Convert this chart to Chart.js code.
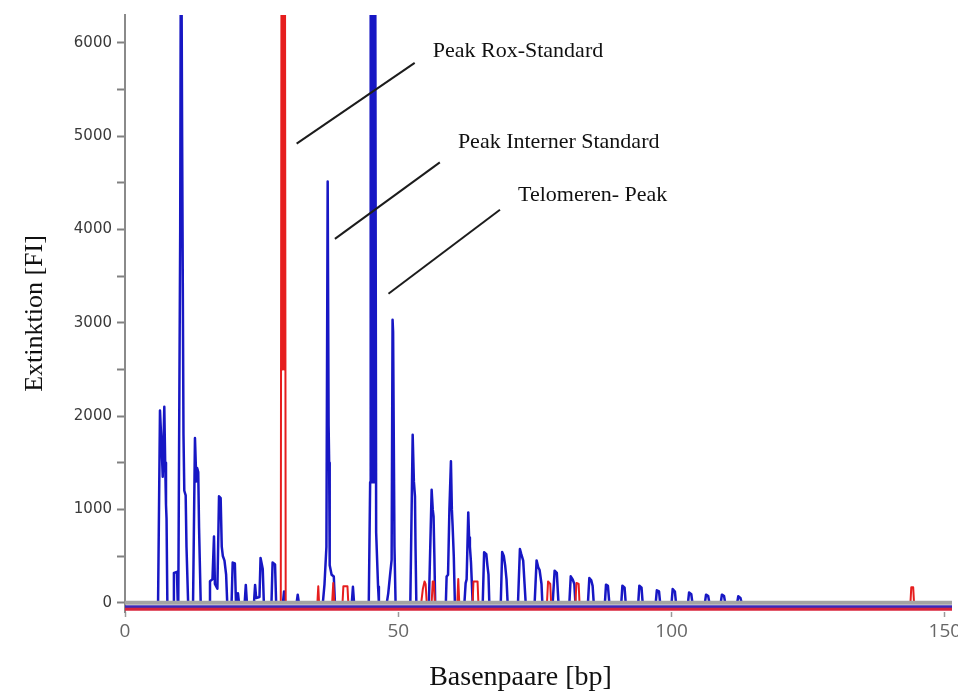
<!DOCTYPE html>
<html>
<head>
<meta charset="utf-8">
<script src="https://cdn.jsdelivr.net/npm/chart.js@4.4.0/dist/chart.umd.min.js"></script>
<style>
body { margin: 0; background: #fff; }
#wrap { width: 958px; height: 693px; }
</style>
</head>
<body>
<div id="wrap"><canvas id="trace" width="958" height="693"></canvas></div>
<script>
// blue channel (sample) : base pairs / fluorescence
var blueBp = [0,
  6.05, 6.4, 6.75, 6.9, 7.19, 7.35, 7.5, 7.6, 7.75,
  8.8, 8.95, 9.5, 9.65,
  9.75, 10.1, 10.25, 10.45, 10.7, 10.85, 11.1, 11.25, 11.55,
  12.45, 12.8, 13.05, 13.2, 13.4, 13.55, 13.85,
  15.4, 15.55, 16.0, 16.28, 16.45, 16.9, 17.2, 17.5, 17.7, 17.9, 18.2, 18.5, 18.7,
  19.5, 19.7, 20.1, 20.3,
  20.5, 20.67, 20.85, 21.9, 22.1, 22.3, 23.6, 23.8, 24.0, 24.6, 24.8, 25.2, 25.4, 26.8, 27.0, 27.45, 27.65,
  28.9, 29.1, 29.3, 31.4, 31.6, 31.8,
  36.2, 36.5, 36.85, 37.08, 37.25, 37.35, 37.45, 37.8, 38.2, 38.4,
  41.5, 41.7, 41.9,
  44.6, 44.85, 44.95, 45.2, 45.35, 45.6, 45.75, 45.95, 46.3, 46.45,
  47.9, 48.16, 48.5, 48.78, 48.95, 49.05, 49.3, 49.5,
  52.2, 52.63, 52.85, 53.05, 53.15, 53.3,
  55.6, 56.1, 56.3, 56.45, 56.6, 56.75,
  58.7, 58.84, 59.1, 59.35, 59.63, 59.8, 59.94, 60.15, 60.35,
  62.1, 62.32, 62.5, 62.8, 62.95, 63.1, 63.3, 63.6,
  65.45, 65.7, 66.1, 66.3, 66.5, 66.65,
  68.75, 69.0, 69.3, 69.55, 69.8, 70.0,
  71.9, 72.25, 72.5, 72.85, 73.1, 73.3,
  74.95, 75.3, 75.6, 75.85, 76.2, 76.35,
  78.25, 78.6, 79.0, 79.3,
  81.3, 81.55, 81.9, 82.2, 82.4,
  84.7, 84.95, 85.3, 85.55, 85.75,
  87.8, 88.0, 88.35, 88.6,
  90.8, 91.0, 91.4, 91.6,
  93.9, 94.1, 94.5, 94.7,
  97.1, 97.3, 97.7, 97.9,
  100.0, 100.2, 100.6, 100.8,
  103.0, 103.2, 103.6, 103.8,
  106.1, 106.3, 106.7, 106.9,
  109.0, 109.2, 109.6, 109.8,
  112.0, 112.2, 112.6, 112.8,
  151.3];
var blueFi = [0,
  0, 2060, 1600, 1350, 2100, 1500, 1050, 900, 0,
  0, 320, 330, 0,
  0, 4000, 8000, 5000, 1800, 1200, 1150, 600, 0,
  0, 1765, 1300, 1444, 1400, 800, 0,
  0, 230, 250, 710, 200, 150, 1140, 1120, 600, 500, 450, 300, 0,
  0, 430, 420, 0,
  0, 100, 0, 0, 190, 0, 0, 190, 50, 60, 480, 360, 0, 0, 430, 410, 0,
  0, 120, 0, 0, 85, 0,
  0, 200, 600, 4516, 1900, 1500, 400, 300, 280, 0,
  0, 170, 0,
  0, 1290, 8000, 1290, 8000, 1290, 8000, 750, 170, 0,
  0, 100, 300, 460, 3034, 2900, 600, 0,
  0, 1800, 1300, 1140, 600, 0,
  0, 1211, 1000, 925, 500, 0,
  0, 280, 300, 1000, 1515, 1000, 818, 500, 0,
  0, 210, 250, 968, 700, 600, 430, 0,
  0, 540, 520, 400, 300, 0,
  0, 543, 500, 400, 250, 0,
  0, 575, 520, 450, 200, 0,
  0, 453, 380, 350, 200, 0,
  0, 343, 320, 0,
  0, 282, 250, 200, 0,
  0, 265, 240, 180, 0,
  0, 193, 180, 0,
  0, 182, 160, 0,
  0, 182, 160, 0,
  0, 132, 120, 0,
  0, 147, 120, 0,
  0, 110, 90, 0,
  0, 86, 70, 0,
  0, 86, 70, 0,
  0, 68, 50, 0,
  0];

// red channel (Rox size standard)
var redBp = [0,
  28.5, 28.65, 28.8, 28.95, 29.1, 29.25, 29.4,
  35.2, 35.36, 35.5,
  37.9, 38.1, 38.3,
  39.8, 39.95, 40.7, 40.85,
  54.2, 54.5, 54.8, 55.0, 55.2,
  56.1, 56.3, 56.5, 56.7,
  60.8, 60.97, 61.15,
  63.6, 63.75, 64.5, 64.65,
  77.2, 77.4, 77.8, 77.95,
  82.4, 82.6, 83.0, 83.15,
  143.7, 143.85, 144.2, 144.35,
  151.3];
var redFi = [0,
  0, 8000, 2500, 8000, 2500, 8000, 0,
  0, 175, 0,
  0, 211, 0,
  0, 175, 175, 0,
  0, 150, 228, 200, 0,
  0, 228, 228, 0,
  0, 254, 0,
  0, 228, 228, 0,
  0, 228, 200, 0,
  0, 211, 200, 0,
  0, 164, 164, 0,
  0];

// noise traces just under the baseline
var baseBp = [0, 151.3];
var blueBaseFi = [-45, -45];
var redBaseFi = [-70, -70];

var xTicks = [0, 50, 100, 150];
var yTicks = [0, 500, 1000, 1500, 2000, 2500, 3000, 3500, 4000, 4500, 5000, 5500, 6000];
var yLabelStep = 1000;

// annotations, in data units
var annoText = ['Peak Rox-Standard', 'Peak Interner Standard', 'Telomeren- Peak'];
var annoTextBp = [56.3, 60.9, 71.9];
var annoTextFi = [5917, 4931, 4363];
var annoLineBp = [[31.4, 53.0], [38.4, 57.6], [48.2, 68.6]];
var annoLineFi = [[4921, 5786], [3900, 4720], [3312, 4213]];

function pts(xs, ys) {
  return xs.map(function(x, i) { return {x: x, y: ys[i]}; });
}

var overlay = {
  id: 'overlay',
  afterDatasetsDraw: function(c) {
    var ctx = c.ctx, xs = c.scales.x, ys = c.scales.y, a = c.chartArea;
    var y0 = ys.getPixelForValue(0);
    ctx.save();
    ctx.strokeStyle = '#a4a4a4';
    ctx.lineWidth = 4;
    ctx.beginPath();
    ctx.moveTo(a.left, y0);
    ctx.lineTo(a.right, y0);
    ctx.stroke();

    ctx.strokeStyle = '#1c1c1c';
    ctx.lineWidth = 2;
    for (var i = 0; i < annoText.length; i++) {
      ctx.beginPath();
      ctx.moveTo(xs.getPixelForValue(annoLineBp[i][0]), ys.getPixelForValue(annoLineFi[i][0]));
      ctx.lineTo(xs.getPixelForValue(annoLineBp[i][1]), ys.getPixelForValue(annoLineFi[i][1]));
      ctx.stroke();
    }
    ctx.fillStyle = '#111';
    ctx.font = '22px "Liberation Serif", "DejaVu Serif", serif';
    ctx.textAlign = 'left';
    ctx.textBaseline = 'middle';
    for (var j = 0; j < annoText.length; j++) {
      ctx.fillText(annoText[j], xs.getPixelForValue(annoTextBp[j]), ys.getPixelForValue(annoTextFi[j]));
    }
    ctx.restore();
  },
  afterDraw: function(c) {
    var ctx = c.ctx, a = c.chartArea;
    ctx.save();
    ctx.fillStyle = '#111';
    ctx.textAlign = 'center';
    ctx.textBaseline = 'middle';
    ctx.font = '28px "Liberation Serif", "DejaVu Serif", serif';
    ctx.fillText('Basenpaare [bp]', (a.left + a.right) / 2 - 18, 678);
    ctx.font = '26px "Liberation Serif", "DejaVu Serif", serif';
    ctx.translate(35, (a.top + a.bottom) / 2);
    ctx.rotate(-Math.PI / 2);
    ctx.fillText('Extinktion [FI]', 0, 0);
    ctx.restore();
  }
};

var chart = new Chart(document.getElementById('trace').getContext('2d'), {
  type: 'line',
  data: {
    datasets: [
      {
        label: 'Rox',
        data: pts(redBp, redFi),
        borderColor: '#e61e1e',
        borderWidth: 2,
        order: 0
      },
      {
        label: 'Probe',
        data: pts(blueBp, blueFi),
        borderColor: '#1717c4',
        borderWidth: 2.5,
        order: 1
      },
      {
        label: 'Rox Basis',
        data: pts(baseBp, redBaseFi),
        borderColor: '#d8243c',
        borderWidth: 3,
        order: 2
      },
      {
        label: 'Probe Basis',
        data: pts(baseBp, blueBaseFi),
        borderColor: '#3a2ab8',
        borderWidth: 3,
        order: 3
      }
    ]
  },
  options: {
    responsive: false,
    animation: false,
    devicePixelRatio: 1,
    layout: { padding: { top: 15, right: 6, left: 0, bottom: 0 } },
    elements: {
      point: { radius: 0 },
      line: { tension: 0, borderJoinStyle: 'round' }
    },
    plugins: {
      legend: { display: false },
      tooltip: { enabled: false }
    },
    scales: {
      x: {
        type: 'linear',
        min: 0,
        max: 151.3,
        afterFit: function(s) { s.height = 81; s.paddingLeft = 0; s.paddingRight = 0; },
        afterBuildTicks: function(s) { s.ticks = xTicks.map(function(v) { return {value: v}; }); },
        border: { display: false },
        grid: { drawOnChartArea: false, drawTicks: true, tickLength: 5, tickColor: '#9a9a9a', tickWidth: 1.5 },
        ticks: {
          padding: 3,
          color: '#666',
          font: { family: '"Open Sans", "DejaVu Sans", sans-serif', size: 19 },
          maxRotation: 0
        }
      },
      y: {
        min: -100,
        max: 6300,
        afterFit: function(s) { s.width = 125; s.paddingTop = 0; s.paddingBottom = 0; },
        afterBuildTicks: function(s) { s.ticks = yTicks.map(function(v) { return {value: v}; }); },
        border: { display: true, color: '#8a8a8a', width: 2 },
        grid: { drawOnChartArea: false, drawTicks: true, tickLength: 8, tickColor: '#808080', tickWidth: 2 },
        ticks: {
          padding: 5,
          color: '#3a3a3a',
          font: { family: '"DejaVu Sans", sans-serif', size: 15 },
          callback: function(v) { return v % yLabelStep === 0 ? v : ''; }
        }
      }
    }
  },
  plugins: [overlay]
});
</script>
</body>
</html>
